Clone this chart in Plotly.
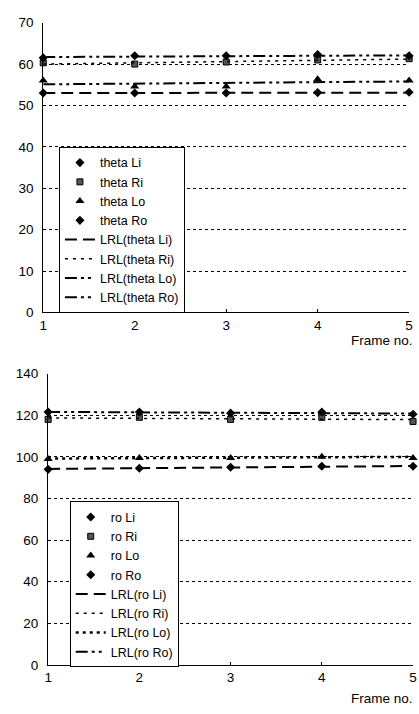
import plotly.graph_objects as go

frames = [1, 2, 3, 4, 5]

# Top chart: theta
theta_Li = [53.0, 53.0, 53.0, 53.1, 53.2]
theta_Ri = [60.3, 60.0, 60.5, 61.0, 61.3]
theta_Lo = [56.0, 54.6, 54.6, 56.3, 56.0]
theta_Ro = [61.5, 62.0, 62.0, 62.3, 62.0]
lrl_theta_Li = [53.0, 53.0, 53.1, 53.1, 53.1]
lrl_theta_Ri = [60.0, 60.3, 60.6, 60.9, 61.2]
lrl_theta_Lo = [55.1, 55.3, 55.5, 55.6, 55.8]
lrl_theta_Ro = [61.7, 61.8, 61.9, 62.0, 62.1]

# Bottom chart: ro
ro_Li = [94.0, 94.5, 95.0, 95.5, 95.5]
ro_Ri = [118.0, 119.0, 118.0, 119.0, 117.0]
ro_Lo = [99.0, 99.5, 99.5, 100.0, 99.5]
ro_Ro = [121.5, 121.5, 121.0, 121.5, 120.5]
lrl_ro_Li = [94.2, 94.6, 94.9, 95.3, 95.6]
lrl_ro_Ri = [118.7, 118.5, 118.3, 118.1, 117.9]
lrl_ro_Lo = [99.2, 99.4, 99.6, 99.8, 100.0]
lrl_ro_Ro = [121.6, 121.4, 121.2, 121.0, 120.8]

theta_names = ["theta Li", "theta Ri", "theta Lo", "theta Ro"]
ro_names = ["ro Li", "ro Ri", "ro Lo", "ro Ro"]

FONT = "Liberation Sans, Arial, sans-serif"
W, H = 419, 714

marker_styles = [
    dict(symbol="diamond", size=7, color="black"),
    dict(symbol="square", size=6, color="#555555", line=dict(color="black", width=1)),
    dict(symbol="triangle-up", size=8, color="black"),
    dict(symbol="diamond", size=7, color="black"),
]
dashdotdot = "12px,4px,3px,4px,3px,4px"

fig = go.Figure()

def add_set(names, series, lrl, lrl_dashes, lrl_widths, xa, ya, legend):
    for n, s, m in zip(names, series, marker_styles):
        fig.add_trace(go.Scatter(x=frames, y=s, mode="markers", name=n, marker=m,
                                 xaxis=xa, yaxis=ya, legend=legend, cliponaxis=False))
    for n, s, d, w in zip(names, lrl, lrl_dashes, lrl_widths):
        fig.add_trace(go.Scatter(x=frames, y=s, mode="lines", name=f"LRL({n})",
                                 line=dict(color="black", dash=d, width=w),
                                 xaxis=xa, yaxis=ya, legend=legend, cliponaxis=False))

add_set(theta_names, [theta_Li, theta_Ri, theta_Lo, theta_Ro],
        [lrl_theta_Li, lrl_theta_Ri, lrl_theta_Lo, lrl_theta_Ro],
        ["12px,6px", "3px,5px", dashdotdot, dashdotdot], [2, 1.5, 2, 2], "x", "y", "legend")
add_set(ro_names, [ro_Li, ro_Ri, ro_Lo, ro_Ro],
        [lrl_ro_Li, lrl_ro_Ri, lrl_ro_Lo, lrl_ro_Ro],
        ["12px,6px", "3px,5px", "3px,4px", dashdotdot], [2, 1.5, 2.5, 2], "x2", "y2", "legend2")

axis_common = dict(showline=True, linecolor="black", linewidth=1.2, zeroline=False,
                   tickfont=dict(family=FONT, size=13.5, color="black"))
legend_common = dict(xanchor="left", yanchor="top", bgcolor="white", bordercolor="black",
                     borderwidth=1, font=dict(family=FONT, size=12.5), tracegroupgap=0,
                     itemwidth=30)
fig.update_layout(
    width=W, height=H, margin=dict(l=0, r=0, t=0, b=0),
    paper_bgcolor="white", plot_bgcolor="white",
    font=dict(family=FONT, size=13, color="black"),
    xaxis=dict(domain=[40 / W, 413 / W], range=[1, 5], dtick=1, anchor="y",
               showgrid=False, ticks="inside", ticklen=3, tickcolor="black", **axis_common),
    yaxis=dict(domain=[1 - 312 / H, 1 - 16 / H], range=[0, 70], dtick=10, anchor="x",
               showgrid=True, gridcolor="black", gridwidth=0.8, griddash="dot",
               ticks="", ticklabelstandoff=6, **axis_common),
    xaxis2=dict(domain=[45 / W, 417 / W], range=[1, 5], dtick=1, anchor="y2",
                showgrid=False, ticks="inside", ticklen=3, tickcolor="black", **axis_common),
    yaxis2=dict(domain=[1 - 672 / H, 1 - 374.5 / H], range=[0, 140], dtick=20, anchor="x2",
                showgrid=True, gridcolor="black", gridwidth=0.8, griddash="dot",
                ticks="", ticklabelstandoff=6, **axis_common),
    legend=dict(x=56 / W, y=1 - 143 / H, **legend_common),
    legend2=dict(x=67 / W, y=1 - 505 / H, **legend_common),
    annotations=[
        dict(text="Frame no.", x=1.0, y=1 - 341 / H, xref="paper", yref="paper",
             xanchor="right", yanchor="middle", showarrow=False,
             font=dict(family=FONT, size=13.5)),
        dict(text="Frame no.", x=1.0, y=1 - 706 / H, xref="paper", yref="paper",
             xanchor="right", yanchor="middle", showarrow=False,
             font=dict(family=FONT, size=13.5)),
    ],
)

fig.write_html("out.html", config={"displayModeBar": False},
               post_script="document.body.style.margin='0px';")
